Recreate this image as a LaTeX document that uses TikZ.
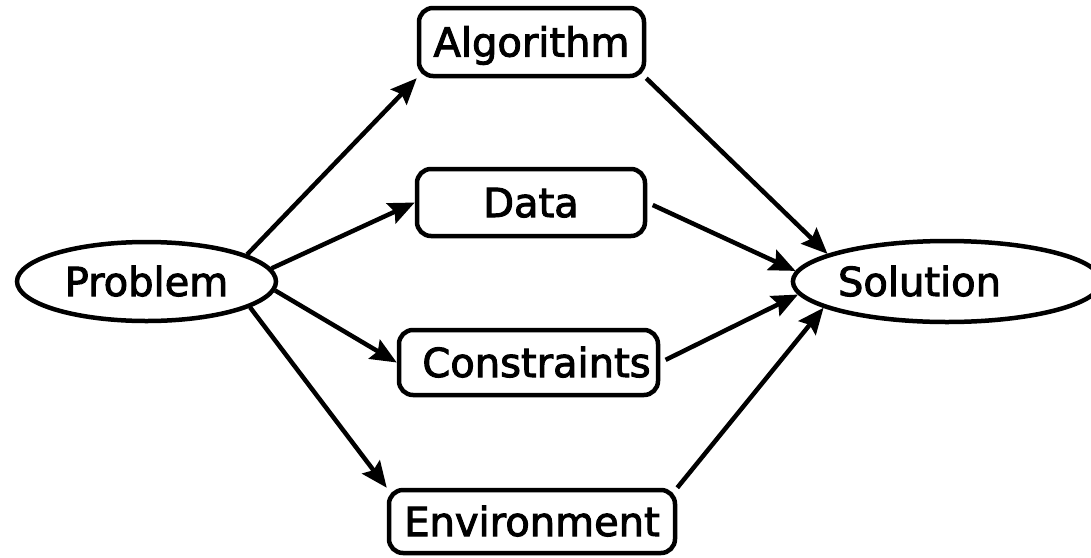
\documentclass[tikz,border=0pt]{standalone}
\usepackage{fontspec}
\setmainfont{DejaVu Sans}
\newfontfamily\lblfont[FakeBold=2.5]{DejaVu Sans}
\usetikzlibrary{shapes.geometric,arrows.meta}
\begin{document}
\begin{tikzpicture}[x=1pt,y=-1pt,
  lw/.style={line width=4.5pt},
  lbl/.style={font=\lblfont\fontsize{40}{48}\selectfont,text height=29pt,text depth=0pt,inner sep=0pt},
  term/.style={draw,ellipse,lw,lbl,minimum height=79pt},
  stepbox/.style={draw,rectangle,rounded corners=14pt,lw,lbl},
  conn/.style={lw,-{Stealth[length=26pt,width=22pt,inset=4pt]}}
]
\useasboundingbox (0,0) rectangle (1091,557);
\node[term,minimum width=259pt] (prob) at (146.5,281.5) {Problem};
\node[term,minimum width=306pt,minimum height=81pt] (sol) at (947,281.5) {Solution\hspace*{55pt}};
\node[stepbox,minimum width=225pt,minimum height=68pt] (alg) at (531.5,42) {Algorithm};
\node[stepbox,minimum width=228pt,minimum height=67pt] (data) at (531,202.5) {Data};
\node[stepbox,minimum width=259pt,minimum height=65pt] (cons) at (528.5,362.5) {\hspace*{16pt}Constraints};
\node[stepbox,minimum width=286pt,minimum height=63pt] (env) at (532,521.5) {Environment};
\draw[conn] (prob.15) -- (alg.south west);
\draw[conn] (prob.6) -- (data.west);
\draw[conn] (prob.-4) -- (cons.west);
\draw[conn] (prob.-14) -- (env.north west);
\draw[conn] (alg.south east) -- (sol.167);
\draw[conn,shorten <=6pt] (data.east) -- (sol.176);
\draw[conn,shorten <=6pt] (cons.east) -- (sol.185);
\draw[conn] (env.north east) -- (sol.192);
\end{tikzpicture}
\end{document}
